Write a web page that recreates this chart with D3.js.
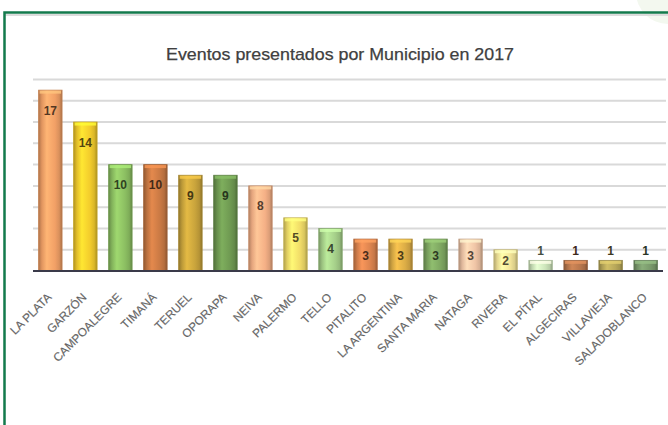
<!DOCTYPE html>
<html>
<head>
<meta charset="utf-8">
<script src="https://cdn.jsdelivr.net/npm/d3@7"></script>
<style>
  body { margin: 0; background: #fff; }
  svg { display: block; }
</style>
</head>
<body>
<svg width="668" height="425"></svg>
<script>
// datos
var municipios = ["LA PLATA", "GARZÓN", "CAMPOALEGRE", "TIMANÁ", "TERUEL", "OPORAPA", "NEIVA",
    "PALERMO", "TELLO", "PITALITO", "LA ARGENTINA", "SANTA MARIA", "NATAGA", "RIVERA",
    "EL PÍTAL", "ALGECIRAS", "VILLAVIEJA", "SALADOBLANCO"];
var eventos = [17, 14, 10, 10, 9, 9, 8, 5, 4, 3, 3, 3, 3, 2, 1, 1, 1, 1];
var yTicks = [0, 2, 4, 6, 8, 10, 12, 14, 16, 18];
var titulo = "Eventos presentados por Municipio  en 2017";

// colores de las barras
var palette = ["#f2a066", "#f3cc2c", "#8cbf62", "#c97944", "#c9a43c", "#6f9a52", "#f5b086",
    "#f1dc68", "#a6d08a", "#dc844f", "#dcad46", "#7fa862", "#f0c5a6", "#f3e498",
    "#cde5bb", "#b8774d", "#b8a85a", "#7a9a6c"];

var svg = d3.select("svg"),
    width = +svg.attr("width"),
    height = +svg.attr("height");

var defs = svg.append("defs");

// marco verde
svg.append("circle").attr("cx", 668).attr("cy", -8).attr("r", 32)
    .attr("fill", "#f3f8ef");
svg.append("line").attr("x1", 4).attr("x2", width).attr("y1", 15).attr("y2", 15)
    .attr("stroke", "#dcdcdc").attr("stroke-width", 2);
svg.append("path")
    .attr("d", "M4.5," + height + "V12.5H" + width)
    .attr("fill", "none").attr("stroke", "#137a4c").attr("stroke-width", 2.5);

svg.append("text")
    .attr("x", 340).attr("y", 60)
    .attr("text-anchor", "middle")
    .attr("font-family", "'Liberation Sans', sans-serif")
    .attr("font-size", 16.5)
    .attr("fill", "#404040")
    .attr("stroke", "#404040")
    .attr("stroke-width", 0.25)
    .attr("textLength", 348)
    .attr("lengthAdjust", "spacingAndGlyphs")
    .text(titulo);

var x = d3.scaleBand().domain(municipios).range([33, 663]).paddingInner(0.33).paddingOuter(0.16);
var y = d3.scaleLinear().domain([0, 18]).range([271, 79.5]);

// lineas de cuadricula
svg.append("g")
    .selectAll("line")
    .data(yTicks.slice(1))
    .enter().append("line")
    .attr("x1", 33).attr("x2", 666)
    .attr("y1", function(d) { return y(d); })
    .attr("y2", function(d) { return y(d); })
    .attr("stroke", "#d9d9d9")
    .attr("stroke-width", 2);

// degradados tipo cilindro
palette.forEach(function(c, i) {
    var g = defs.append("linearGradient").attr("id", "g" + i)
        .attr("x1", 0).attr("x2", 1).attr("y1", 0).attr("y2", 0);
    var base = d3.color(c);
    g.append("stop").attr("offset", "0%").attr("stop-color", base.darker(0.9));
    g.append("stop").attr("offset", "14%").attr("stop-color", base.darker(0.2));
    g.append("stop").attr("offset", "35%").attr("stop-color", base.brighter(0.35));
    g.append("stop").attr("offset", "70%").attr("stop-color", base);
    g.append("stop").attr("offset", "88%").attr("stop-color", base.darker(0.3));
    g.append("stop").attr("offset", "100%").attr("stop-color", base.darker(1));
});

var bar = svg.append("g")
    .selectAll("g")
    .data(eventos)
    .enter().append("g");

bar.append("rect")
    .attr("x", function(d, i) { return x(municipios[i]); })
    .attr("y", function(d) { return y(d); })
    .attr("width", x.bandwidth())
    .attr("height", function(d) { return y(0) - y(d); })
    .attr("fill", function(d, i) { return "url(#g" + i + ")"; })
    .attr("stroke", function(d, i) { return d3.color(palette[i]).darker(0.6); })
    .attr("stroke-width", 0.8);

// tapa superior
bar.append("rect")
    .attr("x", function(d, i) { return x(municipios[i]) + 1; })
    .attr("y", function(d) { return y(d) + 0.5; })
    .attr("width", x.bandwidth() - 2)
    .attr("height", 3)
    .attr("fill", function(d, i) { return d3.color(palette[i]).brighter(0.6); })
    .attr("opacity", 0.8);

// etiquetas de valor
bar.append("text")
    .attr("x", function(d, i) { return x(municipios[i]) + x.bandwidth() / 2; })
    .attr("y", function(d) {
        if (d === 1) return y(d) - 5;
        return Math.min(y(d) + 20, (y(d) + y(0)) / 2) + 4.5;
    })
    .attr("text-anchor", "middle")
    .attr("font-family", "'Liberation Sans', sans-serif")
    .attr("font-weight", "bold")
    .attr("font-size", 12)
    .attr("fill", function(d, i) { return d3.color(palette[i]).darker(3); })
    .text(function(d) { return d; });

// eje x
svg.append("line").attr("x1", 33).attr("x2", 663).attr("y1", y(0)).attr("y2", y(0))
    .attr("stroke", "#3a3a4a").attr("stroke-width", 2);

svg.append("g")
    .selectAll("text")
    .data(municipios)
    .enter().append("text")
    .attr("transform", function(d) {
        return "translate(" + (x(d) + x.bandwidth() / 2 + 2) + ",298) rotate(-45)";
    })
    .attr("text-anchor", "end")
    .attr("font-family", "'Liberation Sans', sans-serif")
    .attr("font-size", 11.8)
    .attr("fill", "#595959")
    .attr("stroke", "#8a8a8a")
    .attr("stroke-width", 0.2)
    .text(function(d) { return d; });
</script>
</body>
</html>
